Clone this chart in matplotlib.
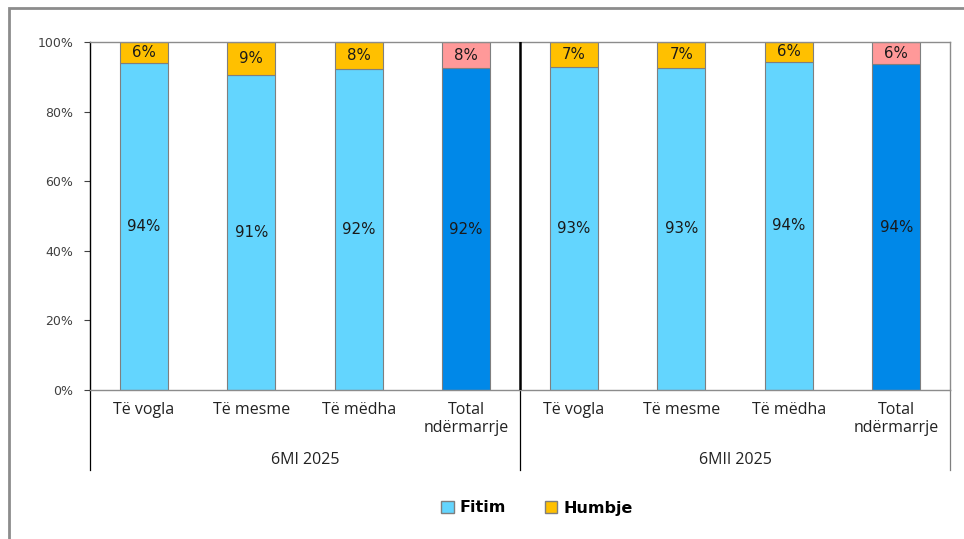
import matplotlib
matplotlib.use("Agg")
import matplotlib.pyplot as plt
from matplotlib.patches import Rectangle, Patch
import matplotlib.transforms as mtransforms

categories = ["Të vogla", "Të mesme", "Të mëdha", "Total\nndërmarrje"]
groups = ["6MI 2025", "6MII 2025"]
fitim = [94.0, 90.6, 92.2, 92.4, 92.7, 92.6, 94.3, 93.6]
humbje = [100 - v for v in fitim]
yticks = [0, 20, 40, 60, 80, 100]

c_fit = "#63D5FE"
c_fit_tot = "#0088E8"
c_hum = "#FFC000"
c_hum_tot = "#FF9999"

fig = plt.figure(figsize=(9.64, 5.39), dpi=100)
ax = fig.add_axes([90/964, 1-390/539, 860/964, 348/539])

n = len(fitim)
x = list(range(n))
fit_cols = [c_fit_tot if (i % 4 == 3) else c_fit for i in x]
hum_cols = [c_hum_tot if (i % 4 == 3) else c_hum for i in x]

ax.bar(x, fitim, width=0.45, color=fit_cols, edgecolor="#7f7f7f", linewidth=0.8, zorder=2)
ax.bar(x, humbje, bottom=fitim, width=0.45, color=hum_cols, edgecolor="#7f7f7f", linewidth=0.8, zorder=2)

for i in x:
    ax.text(i, fitim[i]/2, f"{round(fitim[i]):d}%", ha="center", va="center",
            fontsize=10.8, color="#1a1a1a", family="DejaVu Sans")
    ax.text(i, fitim[i] + humbje[i]/2, f"{round(humbje[i]):d}%", ha="center", va="center",
            fontsize=10.8, color="#1a1a1a", family="DejaVu Sans")

ax.set_xlim(-0.5, n - 0.5)
ax.set_ylim(0, 100)
ax.set_yticks(yticks)
ax.set_yticklabels([f"{t}%" for t in yticks], fontsize=9, color="#404040")
ax.tick_params(axis="y", direction="out", length=4, width=0.8, color="#404040", pad=8)
ax.set_xticks([])

for s in ["top", "right", "bottom"]:
    ax.spines[s].set_color("#8c8c8c")
    ax.spines[s].set_linewidth(1.0)
ax.spines["left"].set_color("#000000")
ax.spines["left"].set_linewidth(1.0)

# divider between groups
ax.axvline(3.5, color="#000000", linewidth=1.8, zorder=3)

trans = mtransforms.blended_transform_factory(ax.transData, ax.transAxes)
ybot = -80/348
for xs, col in [(-0.5, "#000000"), (3.5, "#000000"), (7.5, "#7f7f7f")]:
    ax.plot([xs, xs], [0, ybot], transform=trans, color=col, linewidth=0.9, clip_on=False)

for i in x:
    lab = categories[i % 4]
    ax.text(i, -12/348, lab, transform=trans, ha="center", va="top", fontsize=11.5,
            color="#222222", family="Open Sans", linespacing=1.15)
for g, name in enumerate(groups):
    ax.text(g*4 + 1.5, -62/348, name, transform=trans, ha="center", va="top",
            fontsize=11.5, color="#222222", family="Open Sans")

# outer frame
fig.patches.append(Rectangle((9/964, -0.1), 1.2, (539-8)/539 + 0.1, transform=fig.transFigure,
                             fill=False, edgecolor="#8c8c8c", linewidth=2))

handles = [Patch(facecolor=c_fit, edgecolor="#7f7f7f", label="Fitim"),
           Patch(facecolor=c_hum, edgecolor="#7f7f7f", label="Humbje")]
fig.legend(handles=handles, loc="center", bbox_to_anchor=(537/964, 1-508/539), ncol=2,
           frameon=False, prop={"family": "DejaVu Sans", "weight": "bold", "size": 11.5},
           handlelength=0.8, handleheight=0.8, columnspacing=2.4, handletextpad=0.4)

fig.savefig("out.png", dpi=100)
